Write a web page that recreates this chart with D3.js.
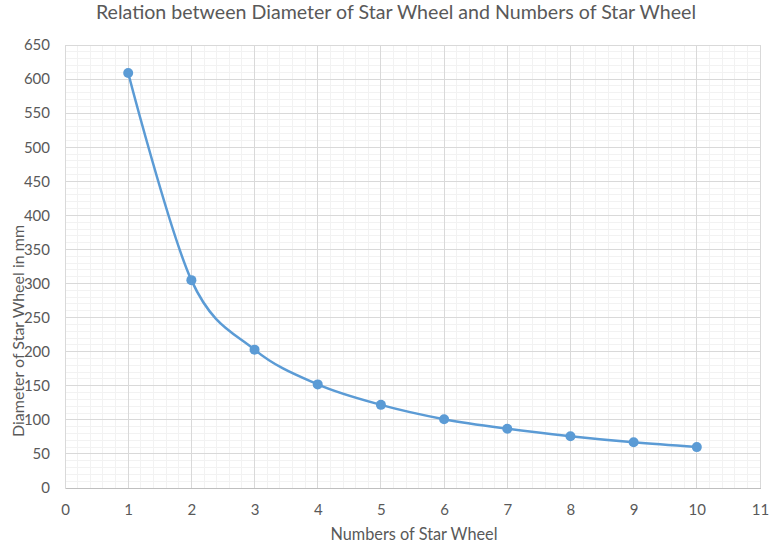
<!DOCTYPE html>
<html lang="en">
<head>
    <meta charset="UTF-8">
    <title>Relation between Diameter of Star Wheel and Numbers of Star Wheel</title>
    <style>
        body {
            margin: 0;
            padding: 0;
            background: #ffffff;
        }
        #chart text {
            font-family: Lato, "Open Sans", sans-serif;
            fill: #595959;
        }
    </style>
</head>
<body>
    <div id="chart"></div>
    <script src="https://d3js.org/d3.v7.min.js"></script>
    <script>
        // Data
        const wheelCount = [1, 2, 3, 4, 5, 6, 7, 8, 9, 10];
        const wheelDiameter = [609, 305, 203, 152, 122, 101, 87, 76, 67, 60];
        const xTicks = [0, 1, 2, 3, 4, 5, 6, 7, 8, 9, 10, 11];
        const yTicks = [0, 50, 100, 150, 200, 250, 300, 350, 400, 450, 500, 550, 600, 650];

        const titleText = 'Relation between Diameter of Star Wheel and Numbers of Star Wheel';
        const xTitle = 'Numbers of Star Wheel';
        const yTitle = 'Diameter of Star Wheel in mm';

        const width = 771;
        const height = 546;
        const margin = { top: 45, right: 11, bottom: 58, left: 65 };
        const innerWidth = width - margin.left - margin.right;
        const innerHeight = height - margin.top - margin.bottom;

        const svg = d3.select('#chart')
            .append('svg')
            .attr('width', width)
            .attr('height', height);

        const g = svg.append('g')
            .attr('transform', `translate(${margin.left},${margin.top})`);

        const x = d3.scaleLinear().domain([0, 11]).range([0, innerWidth]);
        const y = d3.scaleLinear().domain([0, 650]).range([innerHeight, 0]);

        // minor gridlines (5 per major step)
        const xMinor = d3.range(0, 55).map(i => i / 5).filter(v => !xTicks.includes(v));
        const yMinor = d3.range(0, 65).map(i => i * 10).filter(v => v % 50 !== 0);

        g.selectAll('.x-minor')
            .data(xMinor)
            .join('line')
            .attr('class', 'x-minor')
            .attr('x1', d => x(d)).attr('x2', d => x(d))
            .attr('y1', 0).attr('y2', innerHeight)
            .attr('stroke', '#f2f2f2')
            .attr('stroke-width', 1)
            .attr('shape-rendering', 'crispEdges');

        g.selectAll('.y-minor')
            .data(yMinor)
            .join('line')
            .attr('class', 'y-minor')
            .attr('x1', 0).attr('x2', innerWidth)
            .attr('y1', d => y(d)).attr('y2', d => y(d))
            .attr('stroke', '#f2f2f2')
            .attr('stroke-width', 1)
            .attr('shape-rendering', 'crispEdges');

        // major gridlines
        g.selectAll('.x-major')
            .data(xTicks)
            .join('line')
            .attr('class', 'x-major')
            .attr('x1', d => x(d)).attr('x2', d => x(d))
            .attr('y1', 0).attr('y2', innerHeight)
            .attr('stroke', '#d9d9d9')
            .attr('stroke-width', 1)
            .attr('shape-rendering', 'crispEdges');

        g.selectAll('.y-major')
            .data(yTicks)
            .join('line')
            .attr('class', 'y-major')
            .attr('x1', 0).attr('x2', innerWidth)
            .attr('y1', d => y(d)).attr('y2', d => y(d))
            .attr('stroke', '#d9d9d9')
            .attr('stroke-width', 1)
            .attr('shape-rendering', 'crispEdges');

        // axes (labels only, Excel style)
        const xAxis = g.append('g')
            .attr('transform', `translate(0,${innerHeight})`)
            .call(d3.axisBottom(x).tickValues(xTicks).tickSize(0).tickPadding(16));
        xAxis.select('.domain').attr('stroke', '#bfbfbf').attr('shape-rendering', 'crispEdges');
        xAxis.selectAll('text').style('font-size', '15px');

        const yAxis = g.append('g')
            .call(d3.axisLeft(y).tickValues(yTicks).tickSize(0).tickPadding(15));
        yAxis.select('.domain').attr('stroke', '#d9d9d9').attr('shape-rendering', 'crispEdges');
        yAxis.selectAll('text').style('font-size', '15px');

        // smoothed line
        const points = wheelCount.map((n, i) => ({ n, d: wheelDiameter[i] }));

        const line = d3.line()
            .x(p => x(p.n))
            .y(p => y(p.d))
            .curve(d3.curveCardinal.tension(0));

        g.append('path')
            .datum(points)
            .attr('fill', 'none')
            .attr('stroke', '#5b9bd5')
            .attr('stroke-width', 2.5)
            .attr('stroke-linecap', 'round')
            .attr('d', line);

        g.selectAll('.marker')
            .data(points)
            .join('circle')
            .attr('class', 'marker')
            .attr('cx', p => x(p.n))
            .attr('cy', p => y(p.d))
            .attr('r', 5)
            .attr('fill', '#5b9bd5');

        // titles
        svg.append('text')
            .attr('x', 396)
            .attr('y', 19)
            .attr('text-anchor', 'middle')
            .style('font-size', '19.6px')
            .text(titleText);

        svg.append('text')
            .attr('x', 414)
            .attr('y', 540)
            .attr('text-anchor', 'middle')
            .style('font-size', '16.3px')
            .text(xTitle);

        svg.append('text')
            .attr('transform', 'translate(24,331) rotate(-90)')
            .attr('text-anchor', 'middle')
            .style('font-size', '16px')
            .text(yTitle);
    </script>
</body>
</html>
